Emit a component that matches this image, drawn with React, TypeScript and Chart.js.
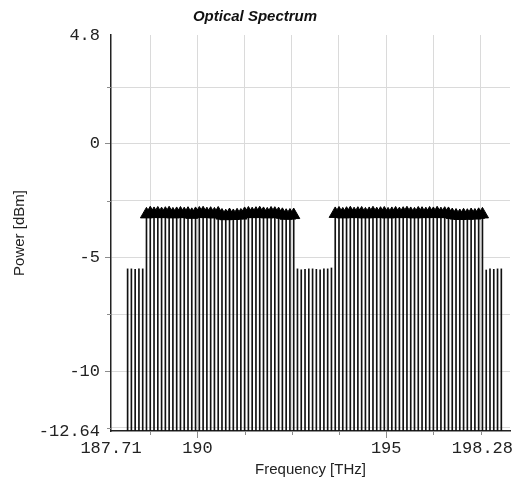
import React, { useEffect, useRef } from 'react';
import { Chart, registerables } from 'chart.js';

Chart.register(...registerables);

// Channel frequencies [THz]
const frequencies = [
  188.15, 188.25, 188.35, 188.45, 188.55, 188.65, 188.75, 188.85, 188.95, 189.05,
  189.15, 189.25, 189.35, 189.45, 189.55, 189.65, 189.75, 189.85, 189.95, 190.05,
  190.15, 190.25, 190.35, 190.45, 190.55, 190.65, 190.75, 190.85, 190.95, 191.05,
  191.15, 191.25, 191.35, 191.45, 191.55, 191.65, 191.75, 191.85, 191.95, 192.05,
  192.15, 192.25, 192.35, 192.45, 192.55, 192.65, 192.75, 192.85, 192.95, 193.05,
  193.15, 193.25, 193.35, 193.45, 193.55, 193.65, 193.75, 193.85, 193.95, 194.05,
  194.15, 194.25, 194.35, 194.45, 194.55, 194.65, 194.75, 194.85, 194.95, 195.05,
  195.15, 195.25, 195.35, 195.45, 195.55, 195.65, 195.75, 195.85, 195.95, 196.05,
  196.15, 196.25, 196.35, 196.45, 196.55, 196.65, 196.75, 196.85, 196.95, 197.05,
  197.15, 197.25, 197.35, 197.45, 197.55, 197.65, 197.75, 197.85, 197.95, 198.05,
];

// Power per channel [dBm]
const powers = [
  -5.50, -5.50, -5.52, -5.50, -5.50, -3.10, -3.05, -3.08, -3.06, -3.09,
  -3.07, -3.05, -3.10, -3.08, -3.06, -3.09, -3.07, -3.12, -3.08, -3.06,
  -3.05, -3.09, -3.07, -3.10, -3.06, -3.15, -3.18, -3.13, -3.17, -3.14,
  -3.15, -3.08, -3.06, -3.09, -3.07, -3.05, -3.08, -3.10, -3.06, -3.07,
  -3.09, -3.12, -3.16, -3.15, -3.13, -5.50, -5.54, -5.52, -5.50, -5.50,
  -5.52, -5.54, -5.50, -5.50, -5.46, -3.08, -3.06, -3.10, -3.07, -3.05,
  -3.09, -3.07, -3.06, -3.10, -3.08, -3.05, -3.09, -3.07, -3.06, -3.10,
  -3.08, -3.06, -3.09, -3.07, -3.05, -3.08, -3.10, -3.06, -3.07, -3.09,
  -3.06, -3.08, -3.05, -3.09, -3.07, -3.08, -3.13, -3.15, -3.17, -3.14,
  -3.16, -3.13, -3.15, -3.12, -3.10, -5.55, -5.50, -5.52, -5.50, -5.50,
];

const signalThreshold = -4;

const xMin = 187.71;
const xMax = 198.28;
const yMin = -12.64;
const yMax = 4.8;

const xLabelValues = [187.71, 190, 195, 198.28];
const xGridValues = [188.75, 190, 191.25, 192.5, 193.75, 195, 196.25, 197.5];
const xMajorValues = [190, 195];
const yLabelValues = [4.8, 0, -5, -10, -12.64];
const yGridValues = [-12.5, -10, -7.5, -5, -2.5, 0, 2.5];
const yMajorValues = [0, -5, -10];

const MONO = "'Liberation Mono', 'Courier New', monospace";
const SANS = "'Liberation Sans', Arial, sans-serif";
const TICK_SIZE = 17;
const GRID = '#dadada';
const TICKC = '#8c8c8c';
const TEXT = '#222222';
const X_TICK_LEN = 7;
const X_TICK_PAD = 0;

const tickMarksPlugin = {
  id: 'tickMarks',
  afterDraw(chart: any) {
    const { ctx, chartArea, scales } = chart;
    const xs = scales.x;
    const ys = scales.y;
    ctx.save();
    ctx.strokeStyle = TICKC;
    ctx.lineWidth = 1;
    ctx.beginPath();
    for (const v of xGridValues) {
      if (xMajorValues.includes(v)) continue;
      const px = Math.round(xs.getPixelForValue(v)) + 0.5;
      ctx.moveTo(px, chartArea.bottom);
      ctx.lineTo(px, chartArea.bottom + 4);
    }
    for (const v of yGridValues) {
      if (yMajorValues.includes(v)) continue;
      const py = Math.round(ys.getPixelForValue(v)) + 0.5;
      ctx.moveTo(chartArea.left - 4, py);
      ctx.lineTo(chartArea.left, py);
    }
    ctx.stroke();
    // last x label, kept inside the canvas (right aligned)
    ctx.font = `${TICK_SIZE}px ${MONO}`;
    ctx.fillStyle = TEXT;
    ctx.textAlign = 'right';
    ctx.textBaseline = 'middle';
    const ly = xs.top + X_TICK_LEN + X_TICK_PAD + (TICK_SIZE * 1.2) / 2;
    ctx.fillText(String(xMax), chart.width - 5, ly);
    ctx.restore();
  },
};

export default function App() {
  const ref = useRef<HTMLCanvasElement>(null);

  useEffect(() => {
    const canvas = ref.current;
    if (!canvas) return;
    const stems = frequencies.map((f, i) => ({ x: f, y: [yMin, powers[i]] }));
    const markers = frequencies
      .map((f, i) => ({ x: f, y: powers[i] }))
      .filter((p) => p.y > signalThreshold);

    const chart = new Chart(canvas, {
      type: 'scatter',
      data: {
        datasets: [
          {
            type: 'scatter',
            data: markers as any,
            order: 0,
            pointStyle: 'triangle',
            pointRadius: 7,
            pointBackgroundColor: '#000000',
            pointBorderColor: '#000000',
            pointBorderWidth: 1,
            showLine: false,
          } as any,
          {
            type: 'bar',
            data: stems as any,
            order: 1,
            backgroundColor: '#111111',
            borderWidth: 0,
            barThickness: 1,
            grouped: false,
          } as any,
        ],
      },
      plugins: [tickMarksPlugin],
      options: {
        responsive: false,
        animation: false,
        events: [],
        layout: { padding: { left: 0, right: 8, top: 0, bottom: 0 } },
        plugins: {
          legend: { display: false },
          tooltip: { enabled: false },
          title: {
            display: true,
            text: 'Optical Spectrum',
            color: '#111111',
            font: { family: SANS, size: 15, weight: 'bold', style: 'italic' },
            padding: { top: 8, bottom: 9 },
          },
        },
        scales: {
          x: {
            type: 'linear',
            min: xMin,
            max: xMax,
            offset: false,
            afterBuildTicks: (s: any) => {
              s.ticks = [xMin, ...xGridValues, xMax].map((v) => ({ value: v }));
            },
            afterFit: (s: any) => {
              s.height = 53;
              s.paddingLeft = 0;
              s.paddingRight = 0;
            },
            ticks: {
              autoSkip: false,
              maxRotation: 0,
              minRotation: 0,
              padding: X_TICK_PAD,
              color: TEXT,
              font: { family: MONO, size: TICK_SIZE },
              callback: (v: any) =>
                xLabelValues.includes(v) && v !== xMax ? String(v) : '',
            },
            grid: {
              offset: false,
              drawTicks: true,
              tickLength: X_TICK_LEN,
              color: (c: any) =>
                c.tick && (c.tick.value === xMin || c.tick.value === xMax) ? 'rgba(0,0,0,0)' : GRID,
              tickColor: (c: any) =>
                c.tick && xMajorValues.includes(c.tick.value) ? TICKC : 'rgba(0,0,0,0)',
            },
            border: { color: '#222222', width: 1.5 },
            title: {
              display: true,
              text: 'Frequency [THz]',
              color: TEXT,
              font: { family: SANS, size: 15 },
              padding: { top: 0, bottom: 5 },
            },
          },
          y: {
            type: 'linear',
            min: yMin,
            max: yMax,
            afterBuildTicks: (s: any) => {
              s.ticks = [yMin, ...yGridValues, yMax].map((v) => ({ value: v }));
            },
            afterFit: (s: any) => {
              s.width = 111;
            },
            ticks: {
              autoSkip: false,
              padding: 5,
              color: TEXT,
              font: { family: MONO, size: TICK_SIZE },
              callback: (v: any) => (yLabelValues.includes(v) ? String(v) : ''),
            },
            grid: {
              drawTicks: true,
              tickLength: 6,
              color: (c: any) =>
                c.tick && (c.tick.value === yMin || c.tick.value === yMax) ? 'rgba(0,0,0,0)' : GRID,
              tickColor: (c: any) =>
                c.tick && yMajorValues.includes(c.tick.value) ? TICKC : 'rgba(0,0,0,0)',
            },
            border: { color: '#222222', width: 1.5 },
            title: {
              display: true,
              text: 'Power [dBm]',
              color: TEXT,
              font: { family: SANS, size: 15 },
              padding: { top: 11, bottom: 0 },
            },
          },
        },
      } as any,
    });
    return () => chart.destroy();
  }, []);

  return (
    <canvas
      ref={ref}
      width={518}
      height={484}
      style={{ position: 'fixed', left: 0, top: 0, width: 518, height: 484, display: 'block' }}
    />
  );
}
